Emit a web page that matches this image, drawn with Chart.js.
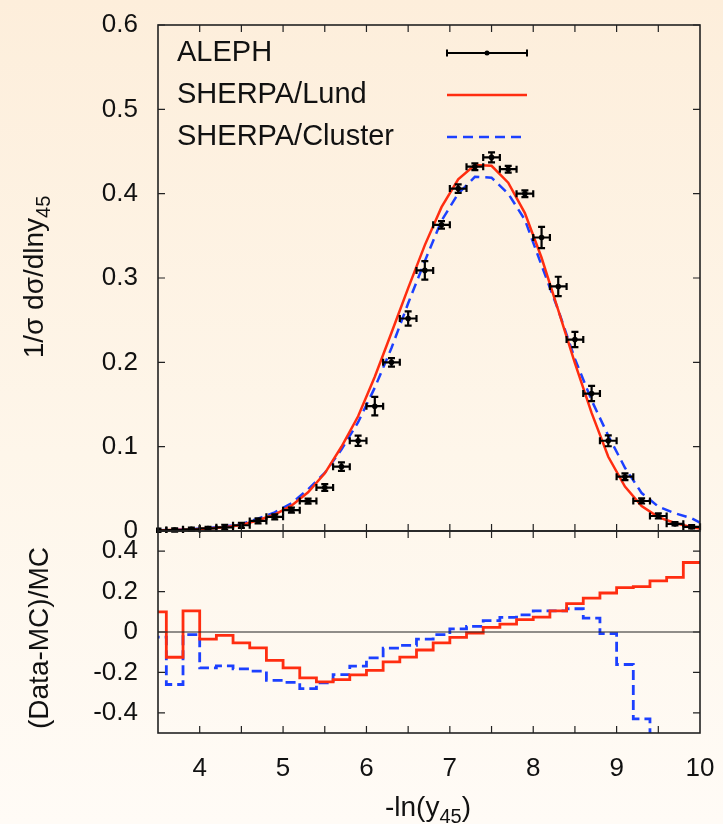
<!DOCTYPE html>
<html>
<head>
<meta charset="utf-8">
<script src="https://cdn.jsdelivr.net/npm/chart.js@4.4.1/dist/chart.umd.min.js"></script>
<style>
  html, body { margin: 0; padding: 0; }
  body {
    width: 723px; height: 824px; overflow: hidden; position: relative;
    background: linear-gradient(#fdeedb, #fef6ea 55%, #fffbf6);
  }
  canvas { position: absolute; left: 0; }
  #topChart { top: 0; }
  #ratioChart { top: 500px; }
</style>
</head>
<body>
<canvas id="topChart" width="723" height="550"></canvas>
<canvas id="ratioChart" width="723" height="324"></canvas>
<script>
// ------------------------------------------------------------
// Data
// ------------------------------------------------------------
var binCentres = [3.5, 3.7, 3.9, 4.1, 4.3, 4.5, 4.7, 4.9, 5.1, 5.3, 5.5, 5.7, 5.9, 6.1, 6.3, 6.5, 6.7,
                  6.9, 7.1, 7.3, 7.5, 7.7, 7.9, 8.1, 8.3, 8.5, 8.7, 8.9, 9.1, 9.3, 9.5, 9.7, 9.9]
var binEdges = [3.4, 3.6, 3.8, 4.0, 4.2, 4.4, 4.6, 4.8, 5.0, 5.2, 5.4, 5.6, 5.8, 6.0, 6.2, 6.4, 6.6,
                6.8, 7.0, 7.2, 7.4, 7.6, 7.8, 8.0, 8.2, 8.4, 8.6, 8.8, 9.0, 9.2, 9.4, 9.6, 9.8, 10.0]
var halfBin = 0.1

// ALEPH data + vertical errors
var alephY = [0.0008, 0.0012, 0.0020, 0.0030, 0.0044, 0.0068, 0.0120, 0.0168, 0.0247, 0.0355, 0.0515,
              0.0763, 0.107, 0.148, 0.200, 0.252, 0.309, 0.363, 0.406, 0.432, 0.443, 0.429, 0.400,
              0.348, 0.290, 0.227, 0.163, 0.107, 0.0644, 0.0356, 0.0178, 0.0085, 0.0050]
var alephErr = [0.002, 0.002, 0.002, 0.002, 0.003, 0.003, 0.003, 0.003, 0.003, 0.003, 0.004,
                0.005, 0.006, 0.011, 0.005, 0.0085, 0.011, 0.0045, 0.005, 0.004, 0.006, 0.004, 0.004,
                0.0126, 0.0115, 0.009, 0.009, 0.0065, 0.004, 0.003, 0.003, 0.002, 0.002]

// MC curves (bin centres plus the right edge)
var mcX = [3.5, 3.7, 3.9, 4.1, 4.3, 4.5, 4.7, 4.9, 5.1, 5.3, 5.5, 5.7, 5.9, 6.1, 6.3, 6.5, 6.7,
           6.9, 7.1, 7.3, 7.5, 7.7, 7.9, 8.1, 8.3, 8.5, 8.7, 8.9, 9.1, 9.3, 9.5, 9.7, 9.9, 10.0]
var lundY = [0.0007, 0.0014, 0.0018, 0.0031, 0.0045, 0.0072, 0.0128, 0.0195, 0.0300, 0.0459, 0.0684,
             0.0999, 0.136, 0.183, 0.235, 0.288, 0.339, 0.384, 0.417, 0.434, 0.433, 0.413, 0.377,
             0.324, 0.262, 0.199, 0.140, 0.088, 0.0526, 0.0296, 0.0165, 0.0095, 0.0045, 0.003]
var clusterY = [0.0008, 0.0016, 0.0020, 0.0036, 0.0053, 0.0083, 0.0146, 0.0221, 0.0329, 0.0493, 0.0689,
                0.0967, 0.129, 0.170, 0.217, 0.270, 0.320, 0.368, 0.400, 0.420, 0.419, 0.400, 0.369,
                0.315, 0.262, 0.204, 0.155, 0.113, 0.075, 0.045, 0.029, 0.021, 0.015, 0.010]

// (Data-MC)/MC per bin
var lundRatio = [0.10, -0.125, 0.105, -0.035, -0.017, -0.054, -0.079, -0.140, -0.178, -0.227, -0.247,
                 -0.236, -0.212, -0.190, -0.148, -0.124, -0.089, -0.054, -0.027, -0.005, 0.023, 0.039,
                 0.061, 0.074, 0.105, 0.140, 0.168, 0.193, 0.220, 0.225, 0.253, 0.270, 0.344]
var clusterRatio = [-0.025, -0.260, -0.013, -0.178, -0.168, -0.183, -0.194, -0.239, -0.249, -0.280, -0.252,
                    -0.211, -0.169, -0.128, -0.080, -0.066, -0.035, -0.013, 0.015, 0.028, 0.056, 0.072,
                    0.085, 0.105, 0.105, 0.115, 0.069, -0.008, -0.161, -0.43, -0.62, -0.70, -0.75]

// ticks and labels
var xLabelTicks = [4, 5, 6, 7, 8, 9, 10]
var xMinorTicks = [4, 4.5, 5, 5.5, 6, 6.5, 7, 7.5, 8, 8.5, 9, 9.5]
var yTopTicks = [0, 0.1, 0.2, 0.3, 0.4, 0.5, 0.6]
var yRatioTicks = [-0.4, -0.2, 0, 0.2, 0.4]
var seriesNames = ['ALEPH', 'SHERPA/Lund', 'SHERPA/Cluster']
var yTitle = ['1/σ dσ/dlny', '45']
var ratioTitle = '(Data-MC)/MC'
var xTitle = ['-ln(y', '45', ')']

var RED = '#ff2d10'
var BLUE = '#1c40ff'
var INK = '#111'
var FONT = "'Liberation Sans', Arial, Helvetica, sans-serif"
Chart.defaults.font.family = FONT
Chart.defaults.color = INK

// ------------------------------------------------------------
// helpers / plugins
// ------------------------------------------------------------
function pts(xs, ys) {
  return ys.map((y, i) => ({ x: xs[i], y: y }))
}
function stepPts(ratio) {
  // value holds from left edge until the next edge, last one closes at 10
  var p = ratio.map((r, i) => ({ x: binEdges[i], y: r }))
  p.push({ x: binEdges[binEdges.length - 1], y: ratio[ratio.length - 1] })
  return p
}
// no extra room for half labels, chart area is set by layout padding only
function noScalePadding(s) {
  s.paddingTop = 0; s.paddingBottom = 0; s.paddingLeft = 0; s.paddingRight = 0
}

// box + inward ticks on all four sides
function framePlugin(yTicks, zeroLine) {
  return {
    id: 'frame',
    afterDraw(chart) {
      var ctx = chart.ctx, a = chart.chartArea
      var xs = chart.scales.x, ys = chart.scales.y
      var tl = 7
      ctx.save()
      ctx.strokeStyle = '#222'
      ctx.lineWidth = 1.2
      if (zeroLine) {
        ctx.beginPath()
        ctx.moveTo(a.left, ys.getPixelForValue(0))
        ctx.lineTo(a.right, ys.getPixelForValue(0))
        ctx.stroke()
      }
      ctx.beginPath()
      xMinorTicks.forEach(v => {
        var px = xs.getPixelForValue(v)
        ctx.moveTo(px, a.top); ctx.lineTo(px, a.top + tl)
        ctx.moveTo(px, a.bottom); ctx.lineTo(px, a.bottom - tl)
      })
      yTicks.forEach(v => {
        var py = ys.getPixelForValue(v)
        ctx.moveTo(a.left, py); ctx.lineTo(a.left + tl, py)
        ctx.moveTo(a.right, py); ctx.lineTo(a.right - tl, py)
      })
      ctx.stroke()
      ctx.lineWidth = 1.6
      ctx.strokeRect(a.left, a.top, a.right - a.left, a.bottom - a.top)
      ctx.restore()
    }
  }
}

// crosses for the ALEPH points
var errorBarPlugin = {
  id: 'errorBars',
  afterDatasetsDraw(chart) {
    var ctx = chart.ctx, a = chart.chartArea
    var xs = chart.scales.x, ys = chart.scales.y
    var cap = 3.5
    ctx.save()
    ctx.beginPath()
    ctx.rect(a.left - 2, a.top, a.right - a.left + 4, a.bottom - a.top + 2)
    ctx.clip()
    ctx.strokeStyle = '#000'
    ctx.lineWidth = 2.2
    binCentres.forEach((x, i) => {
      var px = xs.getPixelForValue(x), py = ys.getPixelForValue(alephY[i])
      var x0 = xs.getPixelForValue(x - halfBin), x1 = xs.getPixelForValue(x + halfBin)
      var y0 = ys.getPixelForValue(alephY[i] - alephErr[i]), y1 = ys.getPixelForValue(alephY[i] + alephErr[i])
      ctx.beginPath()
      ctx.moveTo(x0, py); ctx.lineTo(x1, py)
      ctx.moveTo(x0, py - cap); ctx.lineTo(x0, py + cap)
      ctx.moveTo(x1, py - cap); ctx.lineTo(x1, py + cap)
      ctx.moveTo(px, y0); ctx.lineTo(px, y1)
      ctx.moveTo(px - cap, y0); ctx.lineTo(px + cap, y0)
      ctx.moveTo(px - cap, y1); ctx.lineTo(px + cap, y1)
      ctx.stroke()
    })
    ctx.restore()
  }
}

// legend: names on the left, samples on the right
var legendPlugin = {
  id: 'sideLegend',
  afterDraw(chart) {
    var ctx = chart.ctx, a = chart.chartArea
    ctx.save()
    ctx.font = '29px ' + FONT
    ctx.fillStyle = INK
    ctx.textBaseline = 'middle'
    chart.data.datasets.forEach((ds, i) => {
      var y = a.top + 28 + 42 * i
      ctx.fillText(ds.label, a.left + 19, y)
      var s0 = a.left + 289, s1 = a.left + 369
      ctx.beginPath()
      if (i === 0) {
        ctx.strokeStyle = '#000'
        ctx.lineWidth = 2
        ctx.moveTo(s0, y); ctx.lineTo(s1, y)
        ctx.moveTo(s0, y - 3.5); ctx.lineTo(s0, y + 3.5)
        ctx.moveTo(s1, y - 3.5); ctx.lineTo(s1, y + 3.5)
        ctx.stroke()
        ctx.beginPath()
        ctx.fillStyle = '#000'
        ctx.arc((s0 + s1) / 2, y, 2.5, 0, Math.PI * 2)
        ctx.fill()
        ctx.fillStyle = INK
      } else {
        ctx.strokeStyle = ds.borderColor
        ctx.lineWidth = ds.borderWidth
        ctx.setLineDash(ds.borderDash || [])
        ctx.moveTo(s0, y); ctx.lineTo(s1, y)
        ctx.stroke()
        ctx.setLineDash([])
      }
    })
    ctx.restore()
  }
}

// text with a subscript part; rot = true for the vertical titles
function drawSubText(ctx, parts, cx, base, rot, cy) {
  var mainF = '28px ' + FONT, subF = '20px ' + FONT
  ctx.save()
  var total = 0
  parts.forEach(p => { ctx.font = p.sub ? subF : mainF; total += ctx.measureText(p.t).width })
  if (rot) {
    ctx.translate(base, cy)
    ctx.rotate(-Math.PI / 2)
  } else {
    ctx.translate(cx, base)
  }
  ctx.fillStyle = INK
  ctx.textBaseline = 'alphabetic'
  var x = -total / 2
  parts.forEach(p => {
    ctx.font = p.sub ? subF : mainF
    ctx.fillText(p.t, x, p.sub ? 7 : 0)
    x += ctx.measureText(p.t).width
  })
  ctx.restore()
}

var topTitlePlugin = {
  id: 'topTitle',
  afterDraw(chart) {
    drawSubText(chart.ctx, [{ t: yTitle[0] }, { t: yTitle[1], sub: true }], 0, 43, true, 277)
  }
}
var ratioTitlePlugin = {
  id: 'ratioTitle',
  afterDraw(chart) {
    drawSubText(chart.ctx, [{ t: ratioTitle }], 0, 48, true, 138)
    drawSubText(chart.ctx, [{ t: xTitle[0] }, { t: xTitle[1], sub: true }, { t: xTitle[2] }], 428, 316, false)
  }
}

function yScale(min, max, ticks) {
  return {
    type: 'linear', min: min, max: max,
    grid: { display: false, drawTicks: false },
    border: { display: false },
    afterFit: s => { s.width = 158; noScalePadding(s) },
    afterBuildTicks: s => { s.ticks = ticks.map(v => ({ value: v })) },
    ticks: { padding: 20, autoSkip: false, font: { size: 26 }, color: INK, callback: v => String(v) }
  }
}

// ------------------------------------------------------------
// top panel: distribution
// ------------------------------------------------------------
new Chart(document.getElementById('topChart'), {
  type: 'line',
  data: {
    datasets: [
      { label: seriesNames[0], data: pts(binCentres, alephY), showLine: false,
        pointRadius: 2.8, pointBackgroundColor: '#000', pointBorderWidth: 0 },
      { label: seriesNames[1], data: pts(mcX, lundY), borderColor: RED, borderWidth: 2.5,
        pointRadius: 0, tension: 0, fill: false },
      { label: seriesNames[2], data: pts(mcX, clusterY), borderColor: BLUE, borderWidth: 2.5,
        borderDash: [10, 6], pointRadius: 0, tension: 0, fill: false }
    ]
  },
  options: {
    responsive: false, animation: false,
    layout: { padding: { left: 0, right: 23, top: 25, bottom: 19 } },
    plugins: { legend: { display: false }, tooltip: { enabled: false } },
    scales: {
      x: { type: 'linear', min: 3.5, max: 10, display: false },
      y: yScale(0, 0.6, yTopTicks)
    }
  },
  plugins: [framePlugin(yTopTicks, false), errorBarPlugin, legendPlugin, topTitlePlugin]
})

// ------------------------------------------------------------
// bottom panel: ratio
// ------------------------------------------------------------
new Chart(document.getElementById('ratioChart'), {
  type: 'line',
  data: {
    datasets: [
      { label: seriesNames[1], data: stepPts(lundRatio), stepped: true, borderColor: RED,
        borderWidth: 2.8, pointRadius: 0, fill: false },
      { label: seriesNames[2], data: stepPts(clusterRatio), stepped: true, borderColor: BLUE,
        borderWidth: 2.8, borderDash: [10, 5], pointRadius: 0, fill: false }
    ]
  },
  options: {
    responsive: false, animation: false,
    layout: { padding: { left: 0, right: 23, top: 31, bottom: 0 } },
    plugins: { legend: { display: false }, tooltip: { enabled: false } },
    scales: {
      x: {
        type: 'linear', min: 3.5, max: 10,
        grid: { display: false, drawTicks: false },
        border: { display: false },
        afterFit: s => { s.height = 91; noScalePadding(s) },
        afterBuildTicks: s => { s.ticks = xLabelTicks.map(v => ({ value: v })) },
        ticks: { padding: 20, autoSkip: false, maxRotation: 0, font: { size: 26 }, color: INK,
                 callback: v => String(v) }
      },
      y: yScale(-0.5, 0.5, yRatioTicks)
    }
  },
  plugins: [framePlugin(yRatioTicks, true), ratioTitlePlugin]
})
</script>
</body>
</html>
